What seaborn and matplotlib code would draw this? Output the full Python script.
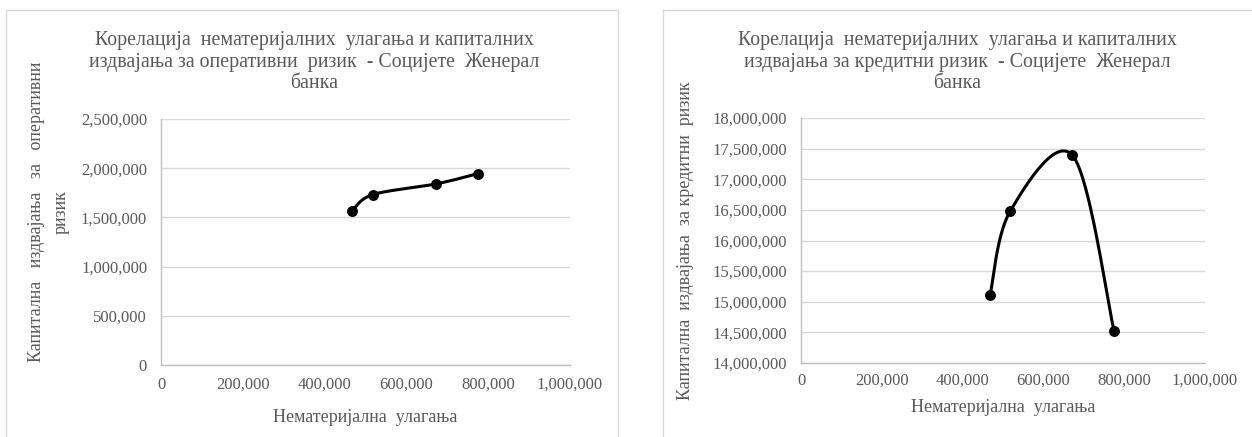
import numpy as np
import pandas as pd
import matplotlib
matplotlib.use("Agg")
import matplotlib.pyplot as plt
from matplotlib.patches import Rectangle
from matplotlib.ticker import FuncFormatter
import seaborn as sns

# ---- data ----
intangible = [468000, 518000, 672000, 775000]           # Нематеријална улагања
op_risk = [1570000, 1732000, 1840000, 1945000]           # оперативни ризик
credit_risk = [15110000, 16480000, 17390000, 14520000]   # кредитни ризик

left_title = "Корелација  нематеријалних  улагања и капиталних\nиздвајања за оперативни  ризик  - Социјете  Женерал\nбанка"
right_title = "Корелација  нематеријалних  улагања и капиталних\nиздвајања за кредитни ризик  - Социјете  Женерал\nбанка"
xlabel = "Нематеријална  улагања"
left_ylabel = "Капитална   издвајања   за   оперативни\nризик"
right_ylabel = "Капитална  издвајања  за кредитни  ризик"
x_ticks = [0, 200000, 400000, 600000, 800000, 1000000]
left_yticks = [0, 500000, 1000000, 1500000, 2000000, 2500000]
right_yticks = [14000000, 14500000, 15000000, 15500000, 16000000, 16500000, 17000000, 17500000, 18000000]


def smooth(xs, ys, n=60):
    """Excel-style smoothed line (Catmull-Rom Bezier) through the points."""
    P = np.column_stack([xs, ys]).astype(float)
    ext = np.vstack([P[0], P, P[-1]])
    out = []
    t = np.linspace(0, 1, n)[:, None]
    for i in range(len(P) - 1):
        p0, p1, p2, p3 = ext[i], ext[i + 1], ext[i + 2], ext[i + 3]
        b1 = p1 + (p2 - p0) / 6.0
        b2 = p2 - (p3 - p1) / 6.0
        seg = ((1 - t) ** 3) * p1 + 3 * ((1 - t) ** 2) * t * b1 + 3 * (1 - t) * t ** 2 * b2 + t ** 3 * p2
        out.append(seg if i == 0 else seg[1:])
    s = np.vstack(out)
    return pd.DataFrame({"x": s[:, 0], "y": s[:, 1], "order": np.arange(len(s))})


sns.set_theme(style="white")
plt.rcParams["font.family"] = ["Liberation Serif", "DejaVu Serif"]
TXT = "#595959"
GRID = "#d9d9d9"

W, H = 1252, 437
fig = plt.figure(figsize=(W / 100, H / 100), dpi=100)
fig.patch.set_facecolor("white")

# chart-area borders
for (x0, x1) in [(6, 618), (663, 1262)]:
    fig.patches.append(Rectangle((x0 / W, -0.02), (x1 - x0) / W, (H - 10) / H + 0.02,
                                 transform=fig.transFigure, fill=False,
                                 edgecolor=GRID, linewidth=1.0))

fmt = FuncFormatter(lambda v, p: f"{int(round(v)):,}")


def fx(px):
    return px / W


def fy(py):
    return 1 - py / H


def make(left, top, right, bottom, ys, yticks, title, title_cx,
         ylabel, ylab_x, ylab_y, xlab_y, xpad):
    ax = fig.add_axes([fx(left), fy(bottom), (right - left) / W, (bottom - top) / H])
    curve = smooth(intangible, ys)
    sns.lineplot(data=curve, x="x", y="y", sort=False, color="black",
                 linewidth=2.2, ax=ax, estimator=None)
    pts = pd.DataFrame({"x": intangible, "y": ys})
    sns.scatterplot(data=pts, x="x", y="y", color="black", s=62,
                    edgecolor="black", linewidth=0, ax=ax, zorder=5)
    ax.set_xlim(x_ticks[0], x_ticks[-1])
    ax.set_ylim(yticks[0], yticks[-1])
    ax.set_xticks(x_ticks)
    ax.set_yticks(yticks)
    ax.xaxis.set_major_formatter(fmt)
    ax.yaxis.set_major_formatter(fmt)
    ax.grid(axis="y", color=GRID, linewidth=1.0)
    ax.grid(axis="x", visible=False)
    for s in ["top", "right"]:
        ax.spines[s].set_visible(False)
    for s in ["left", "bottom"]:
        ax.spines[s].set_color("#bfbfbf")
        ax.spines[s].set_linewidth(1.0)
    ax.tick_params(axis="both", length=0, labelsize=12, colors=TXT)
    ax.tick_params(axis="y", pad=10)
    ax.tick_params(axis="x", pad=xpad)
    ax.set_xlabel("")
    ax.set_ylabel("")
    fig.text(fx((left + right) / 2), fy(xlab_y), xlabel, ha="center", va="center",
             fontsize=13, color=TXT)
    fig.text(fx(ylab_x), fy(ylab_y), ylabel, ha="center", va="center",
             rotation=90, fontsize=13, color=TXT, linespacing=1.6,
             multialignment="center")
    fig.text(fx(title_cx), fy(62), title, ha="center", va="center",
             fontsize=14.3, color=TXT, linespacing=1.18)
    return ax


make(161, 119, 570, 365, op_risk, left_yticks, left_title, 314,
     left_ylabel, 48.5, 212, 418, 8.5)
make(801, 118, 1205, 363, credit_risk, right_yticks, right_title, 957,
     right_ylabel, 686, 241, 408, 7)

fig.savefig("out.png", dpi=100)
